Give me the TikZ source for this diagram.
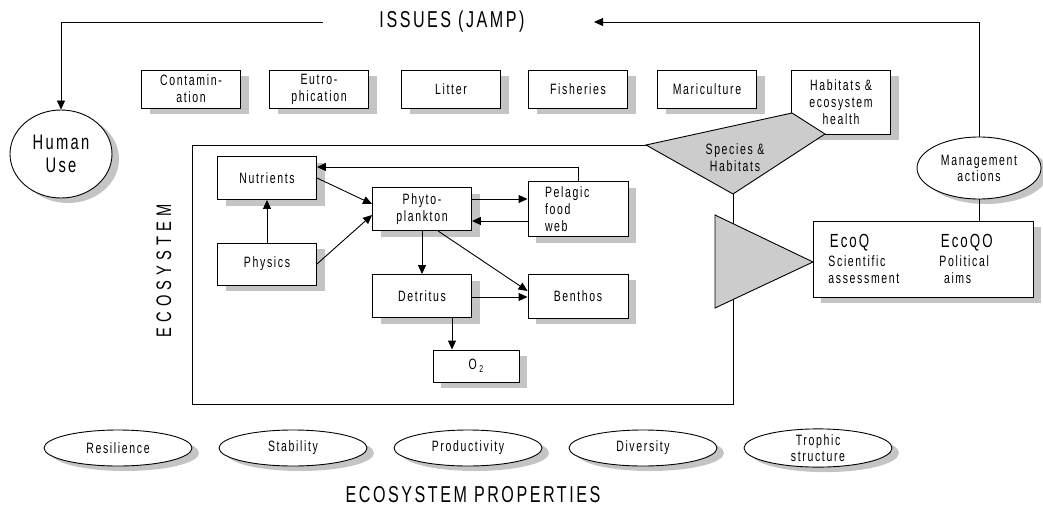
\documentclass[tikz,border=0pt]{standalone}
\usepackage{fontspec}
\setmainfont{Liberation Sans}[FakeStretch=0.7,LetterSpace=11]
\usetikzlibrary{arrows.meta,positioning,shapes.geometric,shadows}
\definecolor{shadegray}{HTML}{C4C4C4}
\definecolor{panelgray}{HTML}{CCCCCC}

\begin{document}
\begin{tikzpicture}[x=1pt, y=-1pt, line width=0.9pt,
  box/.style={draw, fill=white, drop shadow={opacity=1, fill=shadegray, shadow xshift=8pt, shadow yshift=-6pt}, minimum width=99pt, minimum height=38pt, inner sep=1pt, align=center, font=\fontsize{15}{17}\selectfont},
  oval/.style={ellipse, draw, fill=white, drop shadow={opacity=1, fill=shadegray, shadow xshift=7pt, shadow yshift=-5pt}, inner sep=0pt, align=center, font=\fontsize{15}{16}\selectfont},
  arr/.style={-{Triangle[length=9pt,width=8pt]}},
  heading/.style={font=\fontsize{23}{26}\selectfont},
  plain/.style={font=\fontsize{15}{17}\selectfont},
]
\useasboundingbox (0,0) rectangle (1043,508);

% issues
\node[heading] (issues) at (452,22) {ISSUES (JAMP)};
\coordinate (jampL) at (323,22);
\coordinate (jampR) at (594,22);
\node[box] (contam) at (191,89) {Contamin-\\ation};
\node[box] (eutro) at (319,89) {Eutro-\\phication};
\node[box] (litter) at (451,89) {Litter};
\node[box] (fish) at (578,89) {Fisheries};
\node[box] (maric) at (707,89) {Mariculture};
\node[box, minimum height=64pt] (habit) at (841,102) {Habitats \&\\ecosystem\\health};

% human use and management
\node[oval, minimum width=102pt, minimum height=88pt, font=\fontsize{21}{23}\selectfont] (human) at (61,154) {Human\\Use};
\node[oval, minimum width=124pt, minimum height=62pt] (mgmt) at (979,168) {Management\\actions};
\draw[arr] (jampL) -| (human.north);
\draw[arr] (mgmt.north) |- (jampR);

% ecosystem frame
\draw (646,145) -- (192,145) -- (192,404) -- (733,404) -- (733,194);
\draw[fill=panelgray] (646,145) -- (792,113) -- (825,134) -- (733,194) -- cycle;
\node[plain, align=center] (spec) at (735,158) {Species \&\\Habitats};
\draw[fill=panelgray] (715,215) -- (813,262) -- (715,308) -- cycle;
\node[rotate=90, font=\fontsize{21}{24}\selectfont\addfontfeature{LetterSpace=24}] (ecolbl) at (164,271) {ECOSYSTEM};

% EcoQ
\node[box, minimum width=220pt, minimum height=76pt] (ecoq) at (923,259) {};
\node[anchor=west, font=\fontsize{19}{22}\selectfont] (ecoqA) at (826,243) {EcoQ};
\node[plain, anchor=north west, align=left, inner sep=1pt] (sci) at (827,254) {Scientific\\assessment};
\node[anchor=west, font=\fontsize{19}{22}\selectfont] (ecoqB) at (937,243) {EcoQO};
\node[plain, anchor=north west, align=left, inner sep=1pt] (pol) at (938,254) {Political\\\ aims};
\draw (mgmt.south) -- (mgmt.south |- ecoq.north);

% ecosystem components
\node[box, minimum height=43pt] (nutr) at (267,178) {Nutrients};
\node[box, minimum height=42pt] (phys) at (267,264) {Physics};
\node[box, minimum height=43pt] (phyto) at (422,209) {Phyto-\\plankton};
\node[box, minimum width=100pt, minimum height=55pt, text width=66pt, align=left] (pelag) at (578,209) {Pelagic\\food\\web};
\node[box, minimum height=43pt] (detr) at (422,296) {Detritus};
\node[box, minimum width=100pt, minimum height=44pt] (benth) at (578,296) {Benthos};
\node[box, minimum width=86pt, minimum height=32pt] (oxy) at (476,366) {O\,\raisebox{-3pt}{\fontsize{10}{10}\selectfont 2}};

\draw[arr] (pelag.north) |- ([yshift=11pt]nutr.east);
\draw[arr] (nutr.east) -- ([yshift=5pt]phyto.west);
\draw[arr] (phys.east) -- ([yshift=-6pt]phyto.west);
\draw[arr] (phys.north) -- (nutr.south);
\draw[arr] ([yshift=10pt]phyto.east) -- ([yshift=10pt]pelag.west);
\draw[arr] ([yshift=-12pt]pelag.west) -- ([yshift=-12pt]phyto.east);
\draw[arr] (phyto.south) -- (detr.north);
\draw[arr] ([xshift=16pt]phyto.south) -- ([yshift=5pt]benth.west);
\draw[arr] ([yshift=-1pt]detr.east) -- ([yshift=-1pt]benth.west);
\draw[arr] ([xshift=30pt]detr.south) -- ([xshift=30pt]detr.south |- oxy.north);

% ecosystem properties
\foreach \name/\txt [count=\i] in {resil/Resilience, stab/Stability, prod/Productivity, div/Diversity, troph/{Trophic\\structure}}
  \node[oval, minimum width=148pt, minimum height=36pt] (\name) at (118+175*\i-175,448) {\txt};
\node[heading] (props) at (473,495) {ECOSYSTEM PROPERTIES};

\end{tikzpicture}
\end{document}
